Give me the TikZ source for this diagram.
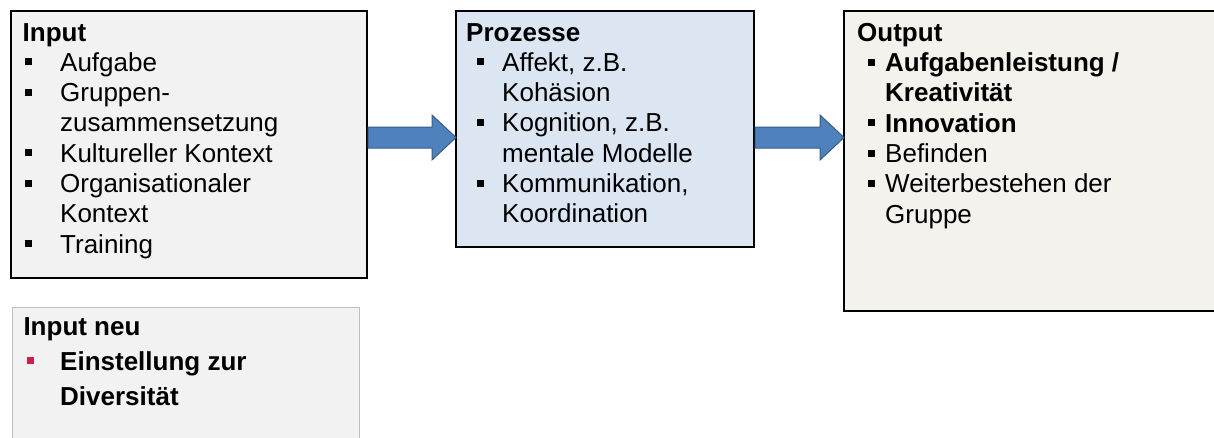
\documentclass[tikz,border=0pt]{standalone}
\usepackage{fontspec}
\setmainfont{Liberation Sans}
\usetikzlibrary{positioning,calc}

\definecolor{inputgray}{HTML}{F2F2F2}
\definecolor{procblue}{HTML}{DCE6F2}
\definecolor{outbeige}{HTML}{F3F2ED}
\definecolor{arrowblue}{HTML}{4F81BD}
\definecolor{arrowedge}{HTML}{385D8A}
\definecolor{bulletred}{HTML}{C8214E}
\definecolor{newedge}{HTML}{BFBFBF}

\tikzset{
  box/.style={draw=black, line width=2pt, anchor=north west, inner sep=0pt},
  boxtext/.style 2 args={anchor=north west, inner sep=0pt, align=left,
    font=\fontsize{26}{30.3}\selectfont,
    execute at begin node={\def\bulx{#1}\def\txtx{#2}}},
  flow/.style={fill=arrowblue, draw=arrowedge, line width=1pt, line join=miter}
}
\newcommand{\bul}[1][black]{\hspace*{\bulx}\makebox[\txtx][l]{\textcolor{#1}{\rule[6pt]{7pt}{7pt}}}}
\newcommand{\ind}{\hspace*{\dimexpr\bulx+\txtx\relax}}
\newcommand{\flowarrow}[2]{%
  \draw[flow] let \p1=(#1), \p2=(#2) in
    (\x1,\y1+10.5pt) -- (\x2-23pt,\y1+10.5pt) -- (\x2-23pt,\y1+22.5pt) -- (\x2+1pt,\y1)
    -- (\x2-23pt,\y1-22.5pt) -- (\x2-23pt,\y1-10.5pt) -- (\x1,\y1-10.5pt) -- cycle;}

\begin{document}
\begin{tikzpicture}[x=1pt, y=-1pt]
\useasboundingbox (0,0) rectangle (1214,437);
\clip (0,0) rectangle (1214,437);

% Kaesten
\node[box, fill=inputgray, minimum width=356pt, minimum height=267pt] (inbox) at (10,10) {};
\node[box, fill=procblue, minimum width=298pt, minimum height=236pt] (procbox) at (455,10) {};
\node[box, fill=outbeige, minimum width=480pt, minimum height=300pt] (outbox) at (843,10) {};
\node[box, fill=inputgray, draw=newedge, line width=1pt, minimum width=347pt, minimum height=200pt] (newbox) at (12,307) {};

% Texte
\node[boxtext={2.5pt}{35pt}, below right=13pt and 12.5pt of inbox.north west] (intext)
  {\textbf{Input}\\ \bul Aufgabe\\ \bul Gruppen-\\ \ind zusammensetzung\\
   \bul Kultureller Kontext\\ \bul Organisationaler\\ \ind Kontext\\ \bul Training};
\node[boxtext={11pt}{25pt}, below right=13pt and 11pt of procbox.north west] (proctext)
  {\textbf{Prozesse}\\ \bul Affekt, z.B.\\ \ind Kohäsion\\ \bul Kognition, z.B.\\
   \ind mentale Modelle\\ \bul Kommunikation,\\ \ind Koordination};
\node[boxtext={11pt}{17pt}, below right=13pt and 14pt of outbox.north west] (outtext)
  {\textbf{Output}\\ \bul\textbf{Aufgabenleistung /}\\ \ind\textbf{Kreativität}\\
   \bul\textbf{Innovation}\\ \bul Befinden\\ \bul Weiterbestehen der\\ \ind Gruppe};
\node[boxtext={3.7pt}{33pt}, font=\fontsize{26}{35}\selectfont,
  below right=10pt and 11.3pt of newbox.north west] (newtext)
  {\textbf{Input neu}\\ \bul[bulletred]\textbf{Einstellung zur}\\ \ind\textbf{Diversität}};

% Pfeile
\coordinate (flowy) at (0,137.5);
\flowarrow{inbox.east |- flowy}{procbox.west |- flowy}
\flowarrow{procbox.east |- flowy}{outbox.west |- flowy}
\end{tikzpicture}
\end{document}
